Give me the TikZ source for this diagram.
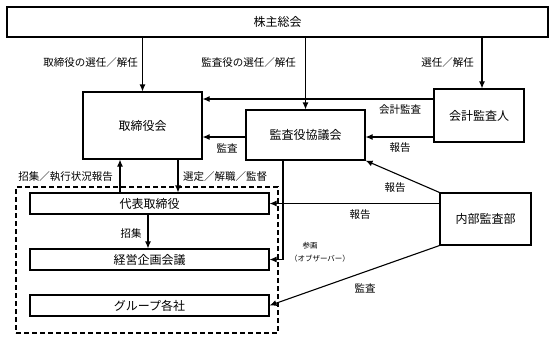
\documentclass[tikz,border=0pt]{standalone}
\usepackage{fontspec}
\newfontfamily\jafont{Noto Sans CJK JP}
\usetikzlibrary{arrows.meta}
\usetikzlibrary{positioning}

\begin{document}
\begin{tikzpicture}[x=1pt, y=-1pt, >={Latex[length=7pt,width=6pt]},
    box/.style={draw, line width=1.1pt, inner sep=0pt, font=\jafont\fontsize{12}{14}\selectfont},
    lbl/.style={inner sep=0pt, font=\jafont\fontsize{10.5}{12}\selectfont},
    small/.style={inner sep=0pt, font=\jafont\fontsize{7.5}{9}\selectfont},
    conn/.style={->, line width=1.1pt}]

    \useasboundingbox (0,0) rectangle (557,341);

    % --- 機関 ---
    \node[box, minimum width=541pt, minimum height=30pt] (soukai) at (277.5,22) {株主総会};
    \node[box, minimum width=119pt, minimum height=67pt] (torikai) at (142.5,125.5) {取締役会};
    \node[box, minimum width=119pt, minimum height=50pt] (kansakai) at (305.5,135) {監査役協議会};
    \node[box, minimum width=90pt, minimum height=53pt] (kaikei) at (479,115.5) {会計監査人};
    \node[box, minimum width=91pt, minimum height=52pt] (naibu) at (485.5,219) {内部監査部};

    % --- 執行側（破線枠） ---
    \node[draw, dashed, dash pattern=on 5pt off 3pt, line width=1.1pt, minimum width=262pt, minimum height=146pt] (shikko) at (147,260) {};
    \node[box, minimum width=239pt, minimum height=21pt] (daihyo) at (149.5,203.5) {代表取締役};
    \node[box, minimum width=239pt, minimum height=21pt] (keiei) at (149.5,259.5) {経営企画会議};
    \node[box, minimum width=239pt, minimum height=21pt] (group) at (149.5,305.5) {グループ各社};

    % --- 株主総会からの選任／解任 ---
    \draw[conn] (torikai.north |- soukai.south) -- (torikai.north);
    \draw[conn] (kansakai.north |- soukai.south) -- (kansakai.north);
    \draw[conn] (482,0 |- soukai.south) -- (482,0 |- kaikei.north);
    \node[lbl, anchor=east] (l-tori) at (138,63) {取締役の選任／解任};
    \node[lbl, anchor=east] (l-kansa) at (296,63) {監査役の選任／解任};
    \node[lbl, anchor=east] (l-kaikei) at (474,63) {選任／解任};

    % --- 会計監査人・監査役協議会 ---
    \draw[conn] (kaikei.west |- 0,99) -- (torikai.east |- 0,99);
    \draw[conn] (kaikei.west |- 0,137) -- (kansakai.east |- 0,137);
    \draw[conn] (kansakai.west |- 0,137) -- (torikai.east |- 0,137);
    \node[lbl] (l-kkansa) at (400,110) {会計監査};
    \node[lbl] (l-khoukoku) at (400,148) {報告};
    \node[lbl] (l-tkansa) at (227,148) {監査};

    % --- 取締役会と代表取締役 ---
    \draw[conn] (120,0 |- daihyo.north) -- (120,0 |- torikai.south);
    \draw[conn] (178,0 |- torikai.south) -- (178,0 |- daihyo.north);
    \draw[conn] (148,0 |- daihyo.south) -- (148,0 |- keiei.north);
    \node[lbl, anchor=east] (l-shoshu) at (113,177) {招集／執行状況報告};
    \node[lbl, anchor=west] (l-sentei) at (183,177) {選定／解職／監督};
    \node[lbl] (l-shoshu2) at (131,233) {招集};

    % --- 監査役協議会の参画 ---
    \draw[conn] (283,0 |- kansakai.south) -- (283,0 |- keiei.east) -- (keiei.east);
    \node[small] (l-sankaku) at (310,246) {参画};
    \node[small] (l-observer) at (320,259) {（オブザーバー）};

    % --- 内部監査部 ---
    \draw[conn] (naibu.north west) -- (kansakai.south east);
    \draw[conn] (naibu.west |- daihyo.east) -- (daihyo.east);
    \draw[conn] (naibu.south west) -- (group.east);
    \node[lbl] (l-nhoukoku1) at (395,188) {報告};
    \node[lbl] (l-nhoukoku2) at (360,215) {報告};
    \node[lbl] (l-nkansa) at (365,288) {監査};

\end{tikzpicture}
\end{document}
